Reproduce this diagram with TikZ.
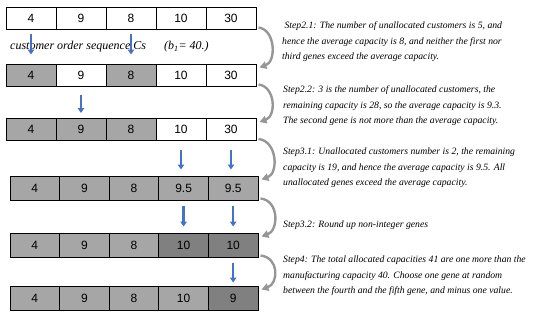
\documentclass[tikz,border=0pt]{standalone}
\usepackage{fontspec}
\setmainfont{Liberation Serif}
\newfontfamily\cellfont{Liberation Sans}
\usetikzlibrary{arrows.meta}
\definecolor{GeneGray}{RGB}{166,166,166}
\definecolor{GeneDark}{RGB}{128,128,128}
\definecolor{PickBlue}{RGB}{68,114,196}
\definecolor{TurnGray}{RGB}{150,150,150}
\tikzset{
  gene/.style={draw=black,line width=1pt,fill=white,font=\cellfont\fontsize{12}{14}\selectfont,minimum width=50pt,minimum height=22pt,inner sep=0pt},
  geneLow/.style={gene,minimum width=49.6pt,minimum height=24pt},
  done/.style={fill=GeneGray},
  fixed/.style={fill=GeneDark},
  stepnote/.style={font=\itshape\fontsize{9.7}{15.5}\selectfont,align=left,anchor=west,inner sep=0pt},
  pick/.style={-{Triangle[length=5pt,width=6.5pt]},line width=2.4pt,draw=PickBlue},
  turn/.style={-{Triangle[length=7pt,width=7.5pt]},line width=2.4pt,draw=TurnGray}
}
\begin{document}
\begin{tikzpicture}[x=1pt,y=1pt]
  \useasboundingbox (0,0) rectangle (550,-314);
  % row 1: initial sequence
  \node[gene] (r1a) at (31,-18) {4};
  \node[gene] (r1b) at (81,-18) {9};
  \node[gene] (r1c) at (131,-18) {8};
  \node[gene] (r1d) at (181,-18) {10};
  \node[gene] (r1e) at (231,-18) {30};
  \node[font=\itshape\fontsize{12}{14}\selectfont,anchor=west,inner sep=0pt] (cs) at (10,-47) {customer order sequence Cs\quad\ \ (b\textsubscript{1}= 40.)};
  % row 2
  \node[gene,done] (r2a) at (31,-75) {4};
  \node[gene] (r2b) at (81,-75) {9};
  \node[gene,done] (r2c) at (131,-75) {8};
  \node[gene] (r2d) at (181,-75) {10};
  \node[gene] (r2e) at (231,-75) {30};
  % row 3
  \node[gene,done] (r3a) at (31,-129.5) {4};
  \node[gene,done] (r3b) at (81,-129.5) {9};
  \node[gene,done] (r3c) at (131,-129.5) {8};
  \node[gene] (r3d) at (181,-129.5) {10};
  \node[gene] (r3e) at (231,-129.5) {30};
  % row 4
  \node[geneLow,done] (r4a) at (34.8,-188) {4};
  \node[geneLow,done] (r4b) at (84.4,-188) {9};
  \node[geneLow,done] (r4c) at (134,-188) {8};
  \node[geneLow,done] (r4d) at (183.6,-188) {9.5};
  \node[geneLow,done] (r4e) at (233.2,-188) {9.5};
  % row 5
  \node[geneLow,done] (r5a) at (34.8,-245) {4};
  \node[geneLow,done] (r5b) at (84.4,-245) {9};
  \node[geneLow,done] (r5c) at (134,-245) {8};
  \node[geneLow,fixed] (r5d) at (183.6,-245) {10};
  \node[geneLow,fixed] (r5e) at (233.2,-245) {10};
  % row 6
  \node[geneLow,done] (r6a) at (34.8,-298) {4};
  \node[geneLow,done] (r6b) at (84.4,-298) {9};
  \node[geneLow,done] (r6c) at (134,-298) {8};
  \node[geneLow,done] (r6d) at (183.6,-298) {10};
  \node[geneLow,fixed] (r6e) at (233.2,-298) {9};
  % picked genes
  \draw[pick,shorten <=4pt,shorten >=9pt] (r1a) -- (r2a);
  \draw[pick,shorten <=4pt,shorten >=9pt] (r1c) -- (r2c);
  \draw[pick,shorten <=8pt,shorten >=5pt] (r2b) -- (r3b);
  \draw[pick,shorten <=9pt,shorten >=6pt] (r3d.south) -- (r3d.south |- r4d.north);
  \draw[pick,shorten <=9pt,shorten >=6pt] (r3e.south) -- (r3e.south |- r4e.north);
  \draw[pick,shorten <=5pt,shorten >=6pt] (r4d) -- (r5d);
  \draw[pick,shorten <=5pt,shorten >=6pt] (r4e) -- (r5e);
  \draw[pick,shorten <=5pt,shorten >=3pt] (r5e) -- (r6e);
  % step to step
  \draw[turn] ([shift={(2,2)}]r1e.south east) .. controls +(17,-2) and +(17,6) .. ([shift={(3,-4)}]r2e.north east);
  \draw[turn] ([shift={(2,2)}]r2e.south east) .. controls +(17,-2) and +(17,6) .. ([shift={(3,-4)}]r3e.north east);
  \draw[turn] ([shift={(2,2)}]r3e.south east) .. controls +(19,-2) and +(17,6) .. ([shift={(3,-4)}]r4e.north east);
  \draw[turn] ([shift={(2,2)}]r4e.south east) .. controls +(19,-2) and +(17,6) .. ([shift={(3,-4)}]r5e.north east);
  \draw[turn] ([shift={(2,2)}]r5e.south east) .. controls +(19,-2) and +(17,6) .. ([shift={(3,-4)}]r6e.north east);
  % step notes
  \node[stepnote] (s21) at (282,-42) {\ Step2.1: The number of unallocated customers is 5, and\\hence the average capacity is 8, and neither the first nor\\third genes exceed the average capacity.};
  \node[stepnote] (s22) at (283,-106) {Step2.2: 3 is the number of unallocated customers, the\\remaining capacity is 28, so the average capacity is 9.3.\\The second gene is not more than the average capacity.};
  \node[stepnote] (s31) at (283,-168) {Step3.1: Unallocated customers number is 2, the remaining\\capacity is 19, and hence the average capacity is 9.5. All\\unallocated genes exceed the average capacity.};
  \node[stepnote] (s32) at (283,-225) {Step3.2: Round up non-integer genes};
  \node[stepnote] (s4) at (283,-276) {Step4: The total allocated capacities 41 are one more than the\\manufacturing capacity 40. Choose one gene at random\\between the fourth and the fifth gene, and minus one value.};
\end{tikzpicture}
\end{document}
